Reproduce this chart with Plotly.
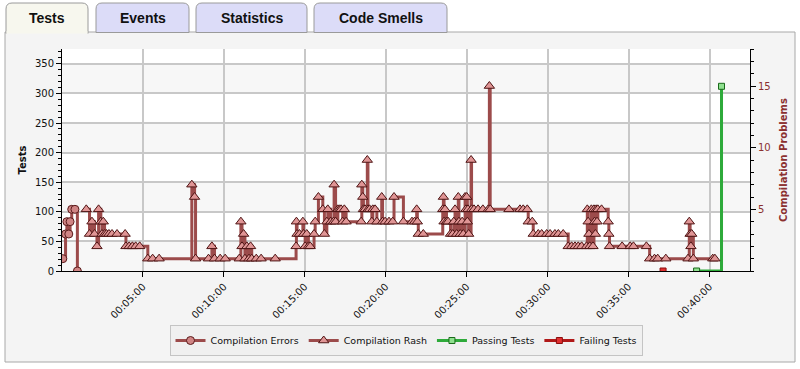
import plotly.graph_objects as go

# ---------------- data (minutes since start) ----------------
errors_t = [0.05, 0.22, 0.30, 0.42, 0.50, 0.60, 0.80, 0.95]
errors_v = [1, 3, 4, 3, 4, 5, 5, 0]

rash_t = [1.50, 1.70, 1.85, 2.01, 2.16, 2.26, 2.40, 2.47, 2.55, 2.63, 2.75, 2.90, 3.09, 3.40, 3.90, 3.95,
          4.15, 4.35, 4.55, 4.80, 5.30, 5.60, 6.00, 8.02, 8.19, 8.25, 9.05, 9.26, 9.42, 9.77, 10.08,
          10.95, 11.05, 11.12, 11.22, 11.30, 11.42, 11.55, 11.65, 11.72, 12.00, 12.30, 13.17,
          14.46, 14.48, 14.52, 14.67, 14.88, 14.92, 15.02, 15.12, 15.22, 15.33, 15.57, 15.64, 15.84,
          16.11, 16.21, 16.36, 16.42, 16.60, 16.77, 16.81, 16.90, 17.04, 17.14, 17.24, 17.34, 17.44,
          17.55, 18.48, 18.52, 18.58, 18.62, 18.72, 18.86, 18.90, 19.00, 19.14, 19.20, 19.34, 19.45,
          19.75, 19.80, 19.96, 20.20, 20.43, 20.51, 21.09, 21.62, 21.78, 21.91, 21.95, 22.01, 22.32,
          23.52, 23.56, 23.60, 23.66, 23.75, 23.85, 24.00, 24.14, 24.20, 24.28, 24.38, 24.48, 24.52,
          24.60, 24.72, 24.79, 24.90, 24.95, 25.00, 25.04, 25.08, 25.12, 25.27, 25.30, 25.45, 25.70,
          26.00, 26.33, 26.40, 26.45, 27.61, 28.29, 28.49, 28.74, 28.80, 29.05, 29.11, 29.42, 29.63,
          29.94, 30.15, 30.45, 30.66, 30.96, 31.27, 31.48, 31.69, 31.89, 32.10, 32.40, 32.45, 32.50,
          32.55, 32.60, 32.70, 32.80, 32.86, 32.90, 32.95, 33.00, 33.05, 33.10, 33.33, 33.74, 33.78,
          33.82, 34.60, 35.10, 35.30, 36.10, 36.30, 36.60, 36.80, 37.30, 38.67, 38.75, 38.80, 38.85,
          38.90, 39.00, 40.20, 40.33]
rash_v = [5, 3, 4, 3, 2, 5, 4, 3, 4, 3, 3, 3, 3, 3, 3, 2,
          2, 2, 2, 2, 1, 1, 1, 7, 6, 1, 1, 2, 1, 1, 1,
          1, 4, 2, 3, 1, 2, 1, 2, 1, 1, 1, 1,
          2, 4, 3, 3, 4, 3, 2, 3, 2, 2, 3, 4, 6,
          5, 3, 4, 5, 4, 4, 7, 4, 5, 5, 5, 4, 5,
          4, 4, 7, 6, 5, 5, 9, 5, 5, 4, 5, 5, 4,
          6, 4, 4, 4, 4, 6, 4, 4, 4, 5, 4, 3, 3,
          5, 6, 4, 5, 4, 4, 3, 3, 4, 5, 3, 6, 4,
          3, 4, 3, 6, 5, 6, 4, 5, 3, 9, 5, 5, 5,
          5, 5, 15, 5, 5, 5, 5, 5, 4, 4, 3, 3, 3,
          3, 3, 3, 3, 3, 2, 2, 2, 2, 2, 2, 5, 4,
          3, 2, 5, 2, 5, 4, 3, 5, 4, 5, 5, 4, 3,
          2, 2, 2, 2, 2, 1, 1, 1, 1, 1, 4, 3, 2,
          3, 1, 1, 1]

passing_t = [39.20, 40.74]
passing_v = [0, 312]

failing_t = [37.13]
failing_v = [0]

tick_minutes = [5, 10, 15, 20, 25, 30, 35, 40]
tick_labels = ["00:05:00", "00:10:00", "00:15:00", "00:20:00",
               "00:25:00", "00:30:00", "00:35:00", "00:40:00"]

tab_labels = ["Tests", "Events", "Statistics", "Code Smells"]

# ---------------- layout geometry ----------------
W, H = 800, 369
L, R, T, B = 62, 750, 49, 271   # plot area in pixels


def px(x):
    return (x - L) / (R - L)


def py(y):
    return (B - y) / (B - T)


maroon = "#9c4b4b"
fig = go.Figure()

fig.add_trace(go.Scatter(
    x=errors_t, y=errors_v, yaxis="y2", name="Compilation Errors",
    mode="lines+markers", line=dict(color=maroon, width=3, shape="hv"),
    marker=dict(symbol="circle", size=8, color="#d08585",
                line=dict(color="#5a1c1c", width=1))))

fig.add_trace(go.Scatter(
    x=rash_t, y=rash_v, yaxis="y2", name="Compilation Rash",
    mode="lines+markers", line=dict(color=maroon, width=3, shape="hv"),
    marker=dict(symbol="triangle-up", size=9, color="#e09595",
                line=dict(color="#4e1414", width=1))))

fig.add_trace(go.Scatter(
    x=passing_t, y=passing_v, name="Passing Tests",
    mode="lines+markers", line=dict(color="#2eaa3a", width=3, shape="hv"),
    marker=dict(symbol="square", size=6, color="#8fe08f",
                line=dict(color="#1a6a1a", width=1))))

fig.add_trace(go.Scatter(
    x=failing_t, y=failing_v, name="Failing Tests",
    mode="lines+markers", line=dict(color="#b01818", width=3, shape="hv"),
    marker=dict(symbol="square", size=6, color="#e03030",
                line=dict(color="#8a0e0e", width=1))))

shapes = []
# outer panel
shapes.append(dict(type="rect", xref="paper", yref="paper", layer="below",
                   x0=px(5), x1=px(795), y0=py(362), y1=py(32),
                   fillcolor="#f4f4f4", line=dict(color="#a8a8a8", width=1)))
# plot area
shapes.append(dict(type="rect", xref="paper", yref="paper", layer="below",
                   x0=0, x1=1, y0=0, y1=1, fillcolor="#ffffff", line=dict(width=0)))
# subtle bands
for lo in [0, 100, 200, 300]:
    shapes.append(dict(type="rect", xref="paper", yref="y", layer="below",
                       x0=0, x1=1, y0=lo, y1=lo + 50, fillcolor="#f7f7f7",
                       line=dict(width=0)))

# tabs
tab_px = [(6, 88), (96, 189), (196, 307), (314, 447)]
r = 6
for i, ((a, b), lab) in enumerate(zip(tab_px, tab_labels)):
    top, bot = 3, 32.5 if i else 33.5
    x0, x1 = px(a), px(b)
    y0, y1 = py(bot), py(top)
    rx = r / (R - L)
    ry = r / (B - T)
    path = (f"M {x0} {y0} L {x0} {y1 - ry} Q {x0} {y1} {x0 + rx} {y1} "
            f"L {x1 - rx} {y1} Q {x1} {y1} {x1} {y1 - ry} L {x1} {y0}")
    path_fill = path if i == 0 else path + " Z"
    shapes.append(dict(type="path", xref="paper", yref="paper", layer="below",
                       path=path_fill,
                       fillcolor="#f7f7ee" if i == 0 else "#dcdcf8",
                       line=dict(color="#9a9a9a", width=1)))
    fig.add_annotation(x=(x0 + x1) / 2, y=py(18), xref="paper", yref="paper",
                       text=lab, showarrow=False, xanchor="center", yanchor="middle",
                       font=dict(family="Liberation Sans, Arial", size=14,
                                 color="#111111", weight="bold"))
# cover panel top border under active tab
shapes.append(dict(type="rect", xref="paper", yref="paper", layer="below",
                   x0=px(6.6), x1=px(87.4), y0=py(33), y1=py(31),
                   fillcolor="#f7f7ee", line=dict(width=0)))

axis_font = dict(family="DejaVu Sans, Verdana", size=10, color="#111111")

fig.update_layout(
    width=W, height=H,
    margin=dict(l=L, r=W - R, t=T, b=H - B, pad=0, autoexpand=False),
    paper_bgcolor="#ffffff", plot_bgcolor="rgba(0,0,0,0)",
    shapes=shapes,
    showlegend=True,
    legend=dict(orientation="h", x=0.5, xanchor="center", y=py(325), yanchor="top",
                bgcolor="#f0f0f0", bordercolor="#c4c4c4", borderwidth=1,
                font=dict(family="DejaVu Sans, Verdana", size=9.5, color="#111111"),
                itemwidth=30, tracegroupgap=0),
    xaxis=dict(range=[0, 42.5], tickmode="array", tickvals=tick_minutes, ticktext=tick_labels,
               tickangle=-45, showgrid=True, gridcolor="#c8c8c8", gridwidth=1.5,
               showline=True, linecolor="#000000", linewidth=1, automargin=False,
               ticks="outside", ticklen=5, tickcolor="#000000", zeroline=False,
               tickfont=axis_font),
    yaxis=dict(range=[0, 375], dtick=50, tick0=0, showgrid=True, gridcolor="#c8c8c8",
               gridwidth=1.5, showline=True, linecolor="#000000", linewidth=1,
               automargin=False,
               ticks="outside", ticklen=5, tickcolor="#000000", zeroline=False,
               minor=dict(dtick=10, ticks="outside", ticklen=3, tickcolor="#000000",
                          showgrid=False),
               tickfont=axis_font,
               title=dict(text="Tests", standoff=6,
                          font=dict(family="DejaVu Sans, Verdana", size=10,
                                    color="#111111", weight="bold"))),
    yaxis2=dict(range=[0, 18], overlaying="y", side="right", tickvals=[5, 10, 15],
                showgrid=False, showline=True, linecolor="#000000", linewidth=1,
                automargin=False,
                ticks="outside", ticklen=5, tickcolor="#000000", zeroline=False,
                minor=dict(dtick=1, ticks="outside", ticklen=3, tickcolor="#000000",
                           showgrid=False),
                tickfont=dict(family="DejaVu Sans, Verdana", size=10, color="#8b3030"),
                title=dict(text="Compilation Problems", standoff=10,
                           font=dict(family="DejaVu Sans, Verdana", size=10,
                                     color="#8b3030", weight="bold"))),
)

fig.write_html("out.html", config={"displayModeBar": False},
               post_script="document.body.style.margin='0px';"
                           "document.body.style.overflow='hidden';")
